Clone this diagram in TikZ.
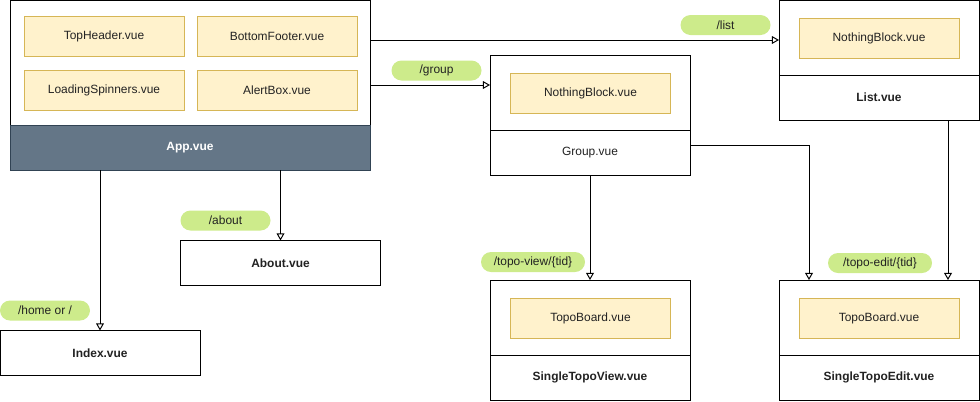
\documentclass[tikz,border=0pt]{standalone}
\usepackage{fontspec}
\setmainfont{Liberation Sans}
\usetikzlibrary{arrows.meta}
\definecolor{slatefill}{HTML}{647687}
\definecolor{slateline}{HTML}{314354}
\definecolor{partfill}{HTML}{FFF2CC}
\definecolor{partline}{HTML}{D6B656}
\definecolor{routefill}{HTML}{CDEB8B}
\definecolor{txt}{HTML}{222222}
\newcommand{\pxu}{0.25mm}
\tikzset{
  box/.style={draw=black, fill=white, line width=0.7pt, inner sep=0pt, outer sep=0pt,
    text=txt, font=\fontsize{8.5}{10}\selectfont},
  comp/.style={box, minimum width=200*\pxu, minimum height=45*\pxu, font=\fontsize{8.5}{10}\selectfont\bfseries},
  holder/.style={box, minimum width=200*\pxu, minimum height=75*\pxu},
  part/.style={box, draw=partline, fill=partfill, minimum width=160*\pxu, minimum height=40*\pxu},
  route/.style={box, draw=none, fill=routefill, minimum height=20*\pxu, rounded corners=10*\pxu},
  link/.style={-{Triangle[open,length=5pt,width=5.5pt]}, line width=0.7pt}
}
\begin{document}
\begin{tikzpicture}[x=\pxu, y=-\pxu]
  \useasboundingbox (0,0) rectangle (980,401);
  %%App
  \node[box, minimum width=360*\pxu, minimum height=125*\pxu] (appbody) at (190,62.5) {};
  \node[box, draw=slateline, fill=slatefill, text=white, minimum width=360*\pxu, minimum height=45*\pxu,
    font=\fontsize{8.5}{10}\selectfont\bfseries] (app) at (190,147.5) {App.vue};
  \node[part] (header) at (104,36) {TopHeader.vue};
  \node[part] (footer) at (277,36) {BottomFooter.vue};
  \node[part] (spinners) at (104,90) {LoadingSpinners.vue};
  \node[part] (alert) at (277,90) {AlertBox.vue};

  %%Group
  \node[holder] (grouptop) at (590,92.5) {};
  \node[comp, font=\fontsize{8.5}{10}\selectfont] (group) at (590,152.5) {Group.vue};
  \node[part] (groupblock) at (590.5,93) {NothingBlock.vue};

  %%List
  \node[holder] (listtop) at (879,37.5) {};
  \node[comp] (list) at (879,97.5) {List.vue};
  \node[part] (listblock) at (879,38) {NothingBlock.vue};

  %%Single topo pages
  \node[holder] (viewtop) at (590,317.5) {};
  \node[comp] (view) at (590,377.5) {SingleTopoView.vue};
  \node[part] (viewboard) at (590.5,318) {TopoBoard.vue};
  \node[holder] (edittop) at (879,317.5) {};
  \node[comp] (edit) at (879,377.5) {SingleTopoEdit.vue};
  \node[part] (editboard) at (879,318) {TopoBoard.vue};

  %%About, Index
  \node[comp] (about) at (280.5,263) {About.vue};
  \node[comp] (index) at (100,353) {Index.vue};

  %%Routes
  \node[route, minimum width=90*\pxu] (rlist) at (725.5,25) {/list};
  \node[route, minimum width=90*\pxu] (rgroup) at (436.5,70.5) {/group};
  \node[route, minimum width=90*\pxu] (rabout) at (225.5,220.5) {/about};
  \node[route, minimum width=90*\pxu] (rhome) at (45,310.5) {/home or /};
  \node[route, minimum width=104*\pxu] (rview) at (533,262) {/topo-view/\{tid\}};
  \node[route, minimum width=104*\pxu] (redit) at (880,263) {/topo-edit/\{tid\}};

  %%Links
  \draw[link] (appbody.east |- 0,40) -- (listtop.west |- 0,40);
  \draw[link] (appbody.east |- 0,85) -- (grouptop.west |- 0,85);
  \draw[link] (about.north |- app.south) -- (about.north);
  \draw[link] (index.north |- app.south) -- (index.north);
  \draw[link] (group.south) -- (viewtop.north);
  \draw[link] (group.east |- 0,145) -| (edittop.north -| 809,0);
  \draw[link] (list.south -| 948,0) -- (edittop.north -| 948,0);
\end{tikzpicture}
\end{document}
